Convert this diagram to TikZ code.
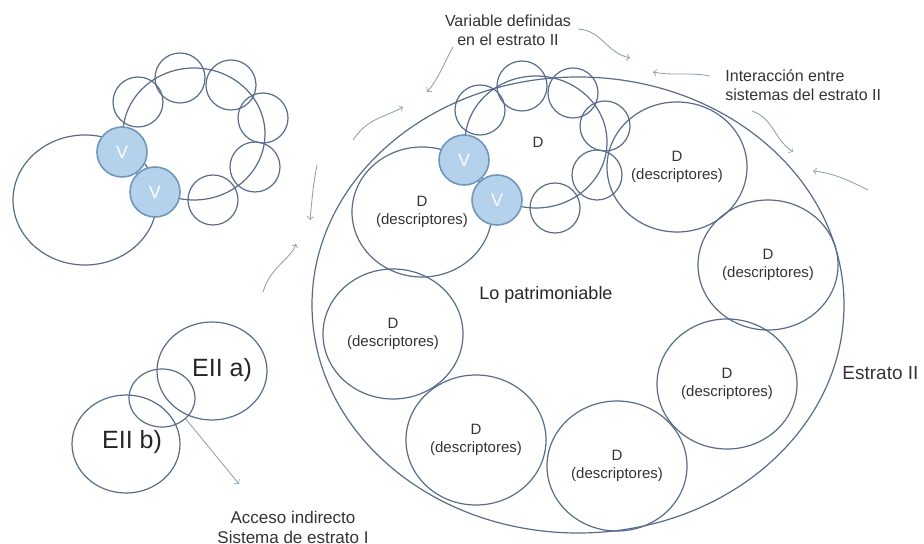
\documentclass[tikz,border=0pt]{standalone}
\usepackage{fontspec}
\setmainfont{Liberation Sans}
\usepackage{tikz}
\usetikzlibrary{shapes.geometric, calc}

\definecolor{linecol}{RGB}{88,108,138}
\definecolor{arrcol}{RGB}{135,155,180}
\definecolor{vfill}{RGB}{180,210,236}
\definecolor{vline}{RGB}{112,150,188}

\begin{document}
\begin{tikzpicture}[x=0.5pt, y=-0.5pt,
        ring/.style={draw=linecol, line width=0.6pt, ellipse, inner sep=0pt},
        small/.style={draw=linecol, line width=0.6pt, circle, inner sep=0pt, minimum size=25pt},
        vnode/.style={draw=vline, fill=vfill, line width=0.8pt, circle, inner sep=0pt, minimum size=25pt, text=white, font=\fontsize{9}{10}\selectfont},
        desc/.style={ring, minimum width=70pt, minimum height=65pt, align=center, text=black!80, font=\fontsize{7.5}{9}\selectfont},
        note/.style={align=center, text=black!80, font=\fontsize{8}{9.5}\selectfont},
        wave/.style={draw=arrcol, line width=0.4pt, ->}]
        \useasboundingbox (0,0) rectangle (924,544);

        % Draw the big ellipse of the stratum
        \node[ring, minimum width=266pt, minimum height=228pt] (estr) at (578,305) {};
        \node[anchor=west, inner sep=0pt, text=black!80, font=\fontsize{9.5}{11}\selectfont] (estrtxt) at (842,373) {Estrato II};
        \node[text=black!85, font=\fontsize{9}{11}\selectfont] (patr) at (546,295) {Lo patrimoniable};

        % Descriptor circles
        \node[desc] (d1) at (422,212) {D\\(descriptores)};
        \node[desc] (d2) at (677,167) {D\\(descriptores)};
        \node[desc] (d3) at (768,265) {D\\(descriptores)};
        \node[desc] (d4) at (393,334) {D\\(descriptores)};
        \node[desc] (d5) at (476,440) {D\\(descriptores)};
        \node[desc] (d6) at (617,466) {D\\(descriptores)};
        \node[desc] (d7) at (727,384) {D\\(descriptores)};

        % Big circle on the left
        \node[ring, minimum width=72pt, minimum height=65pt] (big) at (85,200) {};

        % Draw the two loops of small circles
        \foreach \dx/\dy/\k in {0/0/a, 342/8/b} {
            \node[ring, minimum width=71pt, minimum height=66pt] (loop\k) at (194+\dx,134+\dy) {};
            \foreach \x/\y [count=\i] in {138/102, 180/78, 231/85, 263/118, 255/167, 213/200} {
                \node[small] (s\k\i) at (\x+\dx,\y+\dy) {};
            }
        }
        \node[text=black!80, font=\fontsize{7.5}{9}\selectfont] (dloop) at (538,142) {D};

        % Variables on top
        \foreach \dx/\dy/\k in {0/0/a, 342/8/b} {
            \node[vnode] (v\k1) at (122+\dx,152+\dy) {V};
            \node[vnode] (v\k2) at (155+\dx,192+\dy) {V};
        }

        % Systems EII a) and EII b)
        \node[ring, minimum width=55pt, minimum height=49pt] (eiia) at (212,371) {};
        \node[ring, minimum width=54pt, minimum height=49pt] (eiib) at (126,444) {};
        \node[ring, minimum width=33pt, minimum height=29pt] (ov) at (162,398) {};
        \node[text=black!85, font=\fontsize{12.5}{15}\selectfont] (eiiatxt) at (222,370) {EII a)};
        \node[text=black!85, font=\fontsize{12.5}{15}\selectfont] (eiibtxt) at (132,442) {EII b)};

        % Notes
        \node[note] (vartxt) at (508,30) {Variable definidas\\en el estrato II};
        \node[note, align=left, anchor=west, inner sep=0pt] (inttxt) at (725,85) {Interacción entre\\sistemas del estrato II};
        \node[note, font=\fontsize{8.5}{10}\selectfont] (acctxt) at (293,527) {Acceso indirecto\\Sistema de estrato I};

        % Wavy arrows
        \coordinate (va1s) at (453,47);  \coordinate (va1e) at (427,92);
        \coordinate (va2s) at (578,29);  \coordinate (va2e) at (630,58);
        \coordinate (ia1s) at (710,76);  \coordinate (ia1e) at (653,72);
        \coordinate (ia2s) at (752,111); \coordinate (ia2e) at (793,152);
        \coordinate (ia3s) at (868,190); \coordinate (ia3e) at (813,171);
        \coordinate (la1s) at (353,140); \coordinate (la1e) at (403,107);
        \coordinate (la2s) at (317,165); \coordinate (la2e) at (310,220);
        \coordinate (la3s) at (263,292); \coordinate (la3e) at (296,244);
        \coordinate (acc) at (239,484);

        \draw[wave] (va1s) .. controls +(-8,14) and +(12,-14) .. (va1e);
        \draw[wave] (va2s) .. controls +(25,2) and +(-25,-6) .. (va2e);
        \draw[wave] (ia1s) .. controls +(-20,-4) and +(20,4) .. (ia1e);
        \draw[wave] (ia2s) .. controls +(22,8) and +(-20,-14) .. (ia2e);
        \draw[wave] (ia3s) .. controls +(-20,-10) and +(20,2) .. (ia3e);
        \draw[wave] (la1s) .. controls +(15,-22) and +(-22,12) .. (la1e);
        \draw[wave] (la2s) .. controls +(-4,20) and +(2,-20) .. (la2e);
        \draw[wave] (la3s) .. controls +(8,-26) and +(-6,16) .. (la3e);
        \draw[wave] (ov.south east) -- (acc);
    \end{tikzpicture}
\end{document}
